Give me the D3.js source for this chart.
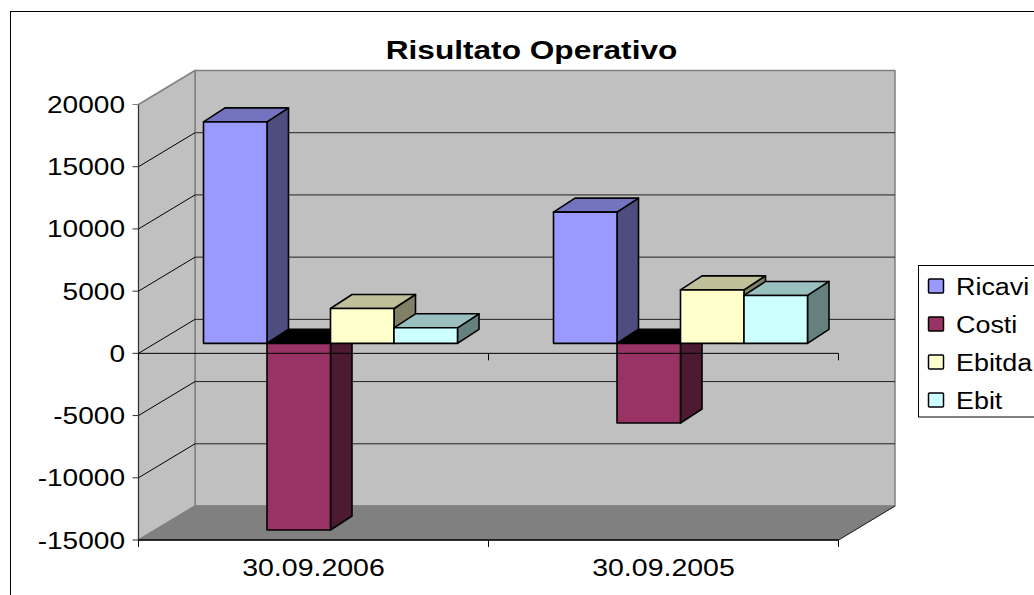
<!DOCTYPE html>
<html>
<head>
<meta charset="utf-8">
<script src="https://cdn.jsdelivr.net/npm/d3@7"></script>
<style>
body { margin: 0; background: #fff; }
svg { display: block; }
text { font-family: "Liberation Sans", Arial, sans-serif; fill: #000; }
</style>
</head>
<body>
<div id="chart"></div>
<script>
var title = "Risultato Operativo";
var categories = ["30.09.2006", "30.09.2005"];
var seriesNames = ["Ricavi", "Costi", "Ebitda", "Ebit"];
var ricavi = [17800, 10550];
var costi = [-15000, -6400];
var ebitda = [2800, 4300];
var ebit = [1250, 3850];
var yTicks = [20000, 15000, 10000, 5000, 0, -5000, -10000, -15000];
var seriesColors = ["#9999ff", "#993366", "#ffffcc", "#ccffff"];
var sideColors = ["#4d4d80", "#4d1a33", "#808066", "#668080"];
var topColors = ["#7373bf", "#000000", "#bfbf99", "#99bfbf"];

var width = 1034, height = 595;

var svg = d3.select("#chart").append("svg")
    .attr("width", width)
    .attr("height", height);

var x = d3.scaleBand().domain(categories).range([138.5, 838.5]);
var y = d3.scaleLinear().domain([-15000, 20000]).range([540, 104.5]);
var barX = d3.scaleBand().domain(seriesNames).range([0, 254]);

// 3d offsets: back wall, bar plane, bar depth
var backDx = 56.5, backDy = -34;
var planeDx = 17, planeDy = -10;
var depthDx = 21.5, depthDy = -14;

function poly(points, fill, stroke, sw) {
    return svg.append("polygon")
        .attr("points", points.map(function (p) { return p.join(","); }).join(" "))
        .style("fill", fill)
        .style("stroke", stroke || "none")
        .style("stroke-width", sw || 0)
        .style("stroke-linejoin", "round");
}

function line(x1, y1, x2, y2, color, sw) {
    svg.append("line")
        .attr("x1", x1).attr("y1", y1)
        .attr("x2", x2).attr("y2", y2)
        .style("stroke", color)
        .style("stroke-width", sw);
}

// stretched text, the original picture is wider than it is tall
function label(px, py, str, size, stretch, anchor, weight) {
    svg.append("text")
        .attr("transform", "translate(" + px + "," + py + ") scale(" + stretch + ",1)")
        .attr("text-anchor", anchor)
        .style("font-size", size + "px")
        .style("font-weight", weight || "normal")
        .text(str);
}

// outer chart frame, runs off the page on the right and bottom
svg.append("rect")
    .attr("x", 10.5).attr("y", 11.5)
    .attr("width", 1100).attr("height", 700)
    .style("fill", "#fff")
    .style("stroke", "#000")
    .style("stroke-width", 1);

var x0 = x.range()[0], x1 = x.range()[1];
var yTop = y(20000), yBot = y(-15000);

// walls and floor
poly([[x0 + backDx, yTop + backDy], [x1 + backDx, yTop + backDy], [x1 + backDx, yBot + backDy], [x0 + backDx, yBot + backDy]], "#c0c0c0", "#808080", 1.5);
poly([[x0, yTop], [x0 + backDx, yTop + backDy], [x0 + backDx, yBot + backDy], [x0, yBot]], "#c0c0c0", "#808080", 1.5);
poly([[x0, yBot], [x0 + backDx, yBot + backDy], [x1 + backDx, yBot + backDy], [x1, yBot]], "#808080", "#808080", 1);
line(x1, yBot, x1 + backDx, yBot + backDy, "#222", 1);

// gridlines on both walls
yTicks.slice(1, -1).forEach(function (t) {
    line(x0, y(t), x0 + backDx, y(t) + backDy, "#000", 1);
    line(x0 + backDx, y(t) + backDy, x1 + backDx, y(t) + backDy, "#222", 1);
});

// bars, left to right so the later ones cover the earlier ones
var values = [ricavi, costi, ebitda, ebit];
categories.forEach(function (cat, c) {
    var groupLeft = x(cat) + (x.bandwidth() - barX.range()[1]) / 2 + planeDx;
    seriesNames.forEach(function (name, s) {
        var v = values[s][c];
        var left = groupLeft + barX(name);
        var right = left + barX.bandwidth();
        var base = y(0) + planeDy;
        var end = y(v) + planeDy;
        var top = Math.min(base, end), bottom = Math.max(base, end);
        poly([[right, top], [right + depthDx, top + depthDy], [right + depthDx, bottom + depthDy], [right, bottom]], sideColors[s], "#000", 1.6);
        poly([[left, top], [left + depthDx, top + depthDy], [right + depthDx, top + depthDy], [right, top]], topColors[s], "#000", 1.6);
        poly([[left, top], [right, top], [right, bottom], [left, bottom]], seriesColors[s], "#000", 1.6);
    });
});

// axes in front of the bars
line(x0, yTop, x0, yBot, "#333", 1);
line(x0, y(0), x1, y(0), "#000", 1);
line(x0, yBot, x1, yBot, "#000", 1.5);

yTicks.forEach(function (t, i) {
    line(x0 - 6, y(t), x0, y(t), i == 0 ? "#808080" : "#333", 1);
    label(x0 - 13.5, y(t) + 8.5, String(t), 23, 1.22, "end");
});

[x0, x0 + x.step(), x1].forEach(function (tx) {
    line(tx, yBot, tx, yBot + 7, "#000", 1);
    line(tx, y(0), tx, y(0) + 7, "#000", 1);
});

categories.forEach(function (cat) {
    label(x(cat) + x.bandwidth() / 2, 576, cat, 23, 1.24, "middle");
});

label(531.5, 59, title, 25, 1.265, "middle", "bold");

// legend
svg.append("rect")
    .attr("x", 918.5).attr("y", 265.5)
    .attr("width", 140).attr("height", 151.5)
    .style("fill", "#fff")
    .style("stroke", "#000")
    .style("stroke-width", 1);

seriesNames.forEach(function (name, s) {
    var ly = 286 + s * 38;
    svg.append("rect")
        .attr("x", 928.5).attr("y", ly - 7)
        .attr("width", 15).attr("height", 14)
        .attr("rx", 1)
        .style("fill", seriesColors[s])
        .style("stroke", "#000")
        .style("stroke-width", 1.5);
    label(956, ly + 9, name, 23, 1.17, "start");
});
</script>
</body>
</html>
